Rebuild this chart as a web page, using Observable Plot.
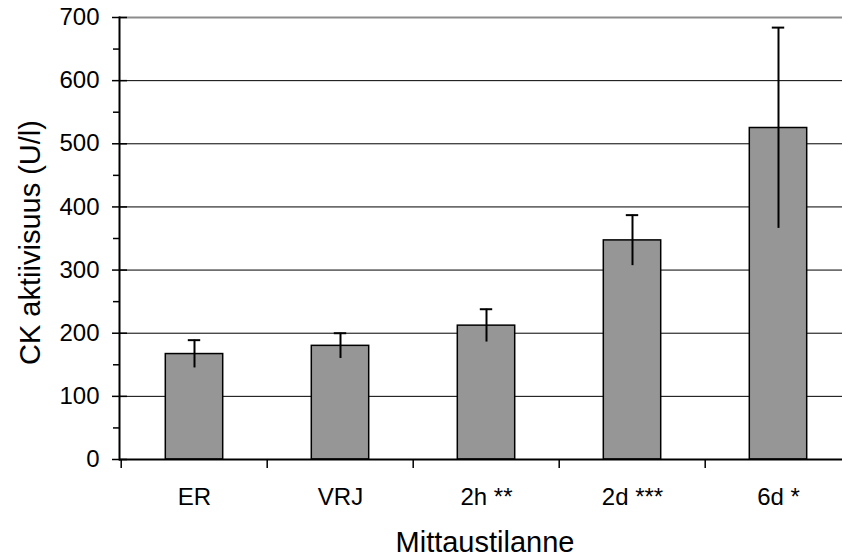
<!DOCTYPE html>
<html>
<head>
<meta charset="utf-8">
<script src="https://cdn.jsdelivr.net/npm/d3@7"></script>
<script src="https://cdn.jsdelivr.net/npm/@observablehq/plot@0.6"></script>
<style>
  html, body { margin: 0; padding: 0; background: #fff; }
  #chart svg { display: block; font-family: "Liberation Sans", Arial, sans-serif; }
</style>
</head>
<body>
<div id="chart"></div>
<script>
// CK activity by measurement point: mean and SD
const categories = ["ER", "VRJ", "2h **", "2d ***", "6d *"];
const means = [167, 180, 212, 347, 525];
const sds = [22, 20, 26, 40, 159];

const majorTicks = [0, 100, 200, 300, 400, 500, 600, 700];
const minorTicks = [50, 150, 250, 350, 450, 550, 650];
const gridLines = [100, 200, 300, 400, 500, 600];
const topLine = [700];

const xTitle = "Mittaustilanne";
const yTitle = "CK aktiivisuus (U/l)";

const rows = categories.map((c, i) => ({cat: c, mean: means[i], sd: sds[i]}));

const width = 842, height = 560;
const marginLeft = 119, marginTop = 17, marginBottom = 101;
const xRange = [marginLeft, 852];
const band = (xRange[1] - xRange[0]) / categories.length;
const barInset = (band - 58) / 2;
const capInset = (band - 13) / 2;

const chart = Plot.plot({
  width, height,
  marginLeft, marginRight: 0, marginTop, marginBottom,
  style: {fontFamily: "'Liberation Sans', Arial, sans-serif", background: "#fff", color: "#000"},
  x: {domain: categories, range: xRange, padding: 0, axis: null},
  y: {domain: [0, 700], axis: null},
  marks: [
    Plot.ruleY(gridLines, {stroke: "#000", strokeWidth: 1}),
    Plot.ruleY(topLine, {stroke: "#8c8c8c", strokeWidth: 2}),
    Plot.barY(rows, {x: "cat", y: "mean", fill: "#969696", stroke: "#000", strokeWidth: 1.5,
      insetLeft: barInset, insetRight: barInset}),
    Plot.ruleX(rows, {x: "cat", y1: d => d.mean - d.sd, y2: d => d.mean + d.sd, stroke: "#000", strokeWidth: 2}),
    Plot.tickY(rows, {x: "cat", y: d => d.mean + d.sd, stroke: "#000", strokeWidth: 2,
      insetLeft: capInset, insetRight: capInset}),
    // category boundary ticks below the baseline
    Plot.ruleX(categories, {x: d => d, y1: 0, y2: 0, dx: -band / 2, insetBottom: -9, stroke: "#000", strokeWidth: 1.5}),
    Plot.ruleY([0], {stroke: "#000", strokeWidth: 2}),
    Plot.frame({anchor: "left", stroke: "#000", strokeWidth: 2}),
    Plot.axisY(majorTicks, {tickSize: 15, dx: 8, tickFormat: () => "", strokeWidth: 1.5, label: null}),
    Plot.axisY(minorTicks, {tickSize: 6, tickFormat: () => "", strokeWidth: 1.5, label: null}),
    Plot.axisY(majorTicks, {tickSize: 0, tickPadding: 20, fontSize: 24, label: null}),
    Plot.axisX({tickSize: 0, tickPadding: 28, fontSize: 24, label: null}),
    Plot.text([xTitle], {frameAnchor: "bottom", dx: 4, dy: 83, fontSize: 29, lineAnchor: "middle"}),
    Plot.text([yTitle], {frameAnchor: "left", dx: -89, dy: 4, rotate: -90, fontSize: 29,
      textAnchor: "middle", lineAnchor: "middle"})
  ]
});

document.getElementById("chart").appendChild(chart);
</script>
</body>
</html>
